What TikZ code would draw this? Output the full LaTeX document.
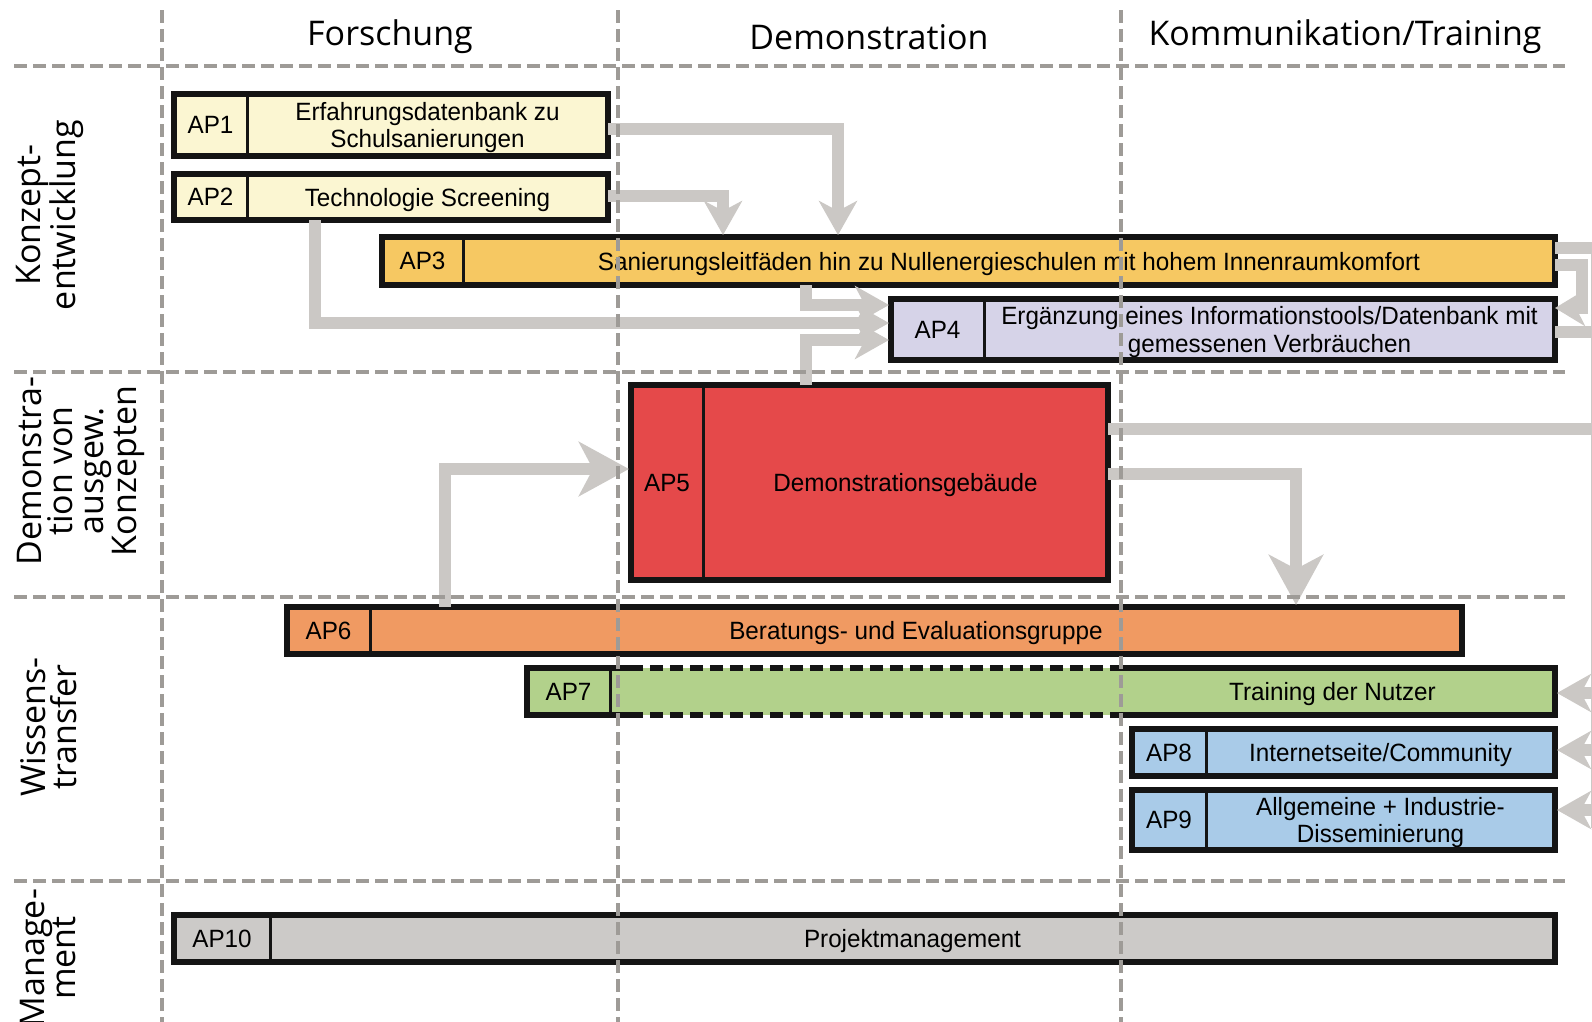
\documentclass[tikz,border=0pt]{standalone}
\usepackage{fontspec}
\setmainfont{Liberation Sans}
\newfontfamily\headfont{Open Sans}
\newfontfamily\boxfont[FakeStretch=0.97]{Liberation Sans}
\usetikzlibrary{arrows.meta, positioning}

\definecolor{apyellow}{HTML}{FBF6D2}
\definecolor{aporange}{HTML}{F6C862}
\definecolor{aplilac}{HTML}{D6D3E8}
\definecolor{apred}{HTML}{E5494A}
\definecolor{apsalmon}{HTML}{F09A62}
\definecolor{apgreen}{HTML}{B2D18B}
\definecolor{apblue}{HTML}{A9CBE8}
\definecolor{apgray}{HTML}{CCCAC8}
\definecolor{flowgray}{HTML}{CBC8C5}
\definecolor{gridgray}{HTML}{9E9B97}

\begin{document}
\begin{tikzpicture}[x=1pt, y=-1pt,
  wp/.style={inner sep=0pt, outer sep=0pt, align=center, anchor=north west, text depth=0pt, font=\boxfont\fontsize{25}{27.5}\selectfont},
  frame/.style={draw=black!92, line width=5.5pt},
  divider/.style={draw=black!92, line width=3pt},
  flow/.style={draw=flowgray, line width=12pt, -{Stealth[length=34pt, width=38pt, inset=10pt]}, shorten >=2pt},
  bigflow/.style={flow, -{Stealth[length=50pt, width=54pt, inset=14pt]}},
  grid/.style={draw=gridgray, line width=4.5pt, dash pattern=on 13pt off 6pt},
  head/.style={font=\headfont\fontsize{34}{36}\selectfont},
  lane/.style={rotate=90, align=center, font=\headfont\fontsize{34}{31}\selectfont}]

  \useasboundingbox (0,0) rectangle (1592,1021);
  \clip (0,0) rectangle (1592,1021);

  % Work packages
  \node[wp, fill=apyellow, minimum width=73pt, minimum height=62pt] (ap1) at (174,94) {AP1};
  \node[wp, fill=apyellow, minimum width=361pt, minimum height=62pt, right=0pt of ap1] (ap1d) {Erfahrungsdatenbank zu\\Schulsanierungen};
  \node[wp, fill=apyellow, minimum width=73pt, minimum height=46pt] (ap2) at (174,174) {AP2};
  \node[wp, fill=apyellow, minimum width=361pt, minimum height=46pt, right=0pt of ap2] (ap2d) {Technologie Screening};
  \node[wp, fill=aporange, minimum width=81pt, minimum height=48pt] (ap3) at (382,237) {AP3};
  \node[wp, fill=aporange, minimum width=1092pt, minimum height=48pt, right=0pt of ap3] (ap3d) {Sanierungsleitfäden hin zu Nullenergieschulen mit hohem Innenraumkomfort};
  \node[wp, fill=aplilac, minimum width=93pt, minimum height=61pt] (ap4) at (891,299) {AP4};
  \node[wp, fill=aplilac, minimum width=571pt, minimum height=61pt, right=0pt of ap4] (ap4d) {Ergänzung eines Informationstools/Datenbank mit\\gemessenen Verbräuchen};
  \node[wp, fill=apred, minimum width=72pt, minimum height=195pt] (ap5) at (631,385) {AP5};
  \node[wp, fill=apred, minimum width=405pt, minimum height=195pt, right=0pt of ap5] (ap5d) {Demonstrationsgebäude};
  \node[wp, fill=apsalmon, minimum width=83pt, minimum height=47pt] (ap6) at (287,607) {AP6};
  \node[wp, fill=apsalmon, minimum width=1092pt, minimum height=47pt, right=0pt of ap6] (ap6d) {Beratungs- und Evaluationsgruppe};
  \node[wp, fill=apgreen, minimum width=83pt, minimum height=47pt] (ap7) at (527,668) {AP7};
  \node[wp, fill=apgreen, minimum width=500pt, minimum height=47pt, right=0pt of ap7] (ap7m) {};
  \node[wp, fill=apgreen, minimum width=445pt, minimum height=47pt, right=0pt of ap7m] (ap7d) {Training der Nutzer};
  \node[wp, fill=apblue, minimum width=74pt, minimum height=47pt] (ap8) at (1132,729) {AP8};
  \node[wp, fill=apblue, minimum width=349pt, minimum height=47pt, right=0pt of ap8] (ap8d) {Internetseite/Community};
  \node[wp, fill=apblue, minimum width=74pt, minimum height=60pt] (ap9) at (1132,790) {AP9};
  \node[wp, fill=apblue, minimum width=349pt, minimum height=60pt, right=0pt of ap9] (ap9d) {Allgemeine + Industrie-\\Disseminierung};
  \node[wp, fill=apgray, minimum width=96pt, minimum height=47pt] (ap10) at (174,915) {AP10};
  \node[wp, fill=apgray, minimum width=1285pt, minimum height=47pt, right=0pt of ap10] (ap10d) {Projektmanagement};

  % Frames
  \foreach \ap in {ap1,ap2,ap3,ap4,ap5,ap6,ap8,ap9,ap10} {
    \draw[frame] (\ap.north west) rectangle (\ap d.south east);
    \draw[divider] (\ap.north east) -- (\ap.south east);
  }
  \draw[frame] ([xshift=20pt]ap7m.north west) -- (ap7.north west) -- (ap7.south west) -- ([xshift=20pt]ap7m.south west);
  \draw[frame] (ap7d.north west) -- (ap7d.north east) -- (ap7d.south east) -- (ap7d.south west);
  \draw[frame, dash pattern=on 13pt off 7pt] ([xshift=20pt]ap7m.north west) -- (ap7m.north east) ([xshift=20pt]ap7m.south west) -- (ap7m.south east);
  \draw[divider] (ap7.north east) -- (ap7.south east);

  % Arrows
  \draw[flow] (ap1d.east |- 0,129) -- (838,129) -- (ap3d.north -| 838,0);
  \draw[flow] (ap2d.east |- 0,196) -- (723,196) -- (ap3d.north -| 723,0);
  \draw[flow] (ap2d.south -| 315,0) -- (315,323) -- (ap4.west |- 0,323);
  \draw[flow] (ap3d.south -| 806,0) -- (806,305) -- (ap4.west |- 0,305);
  \draw[flow] (ap5d.north -| 806,0) -- (806,340) -- (ap4.west |- 0,340);
  \draw[bigflow] (ap6d.north -| 445,0) -- (445,469) -- (ap5.west |- 0,469);
  \draw[bigflow] (ap5d.east |- 0,474) -- (1296,474) -- (ap6d.north -| 1296,0);
  \draw[flow, -] (ap5d.east |- 0,429) -- (1640,429);
  \draw[flow, shorten >=0pt, -{Stealth[length=30pt, width=36pt, inset=9pt]}] (ap3d.east |- 0,265) -- (1582,265) -- (1582,308) -- (ap4d.east |- 0,308);
  \draw[flow, -] (ap3d.east |- 0,248) -- (1640,248);
  \draw[flow, -] (ap4d.east |- 0,332) -- (1640,332);
  \draw[flow, -] (1597,248) -- (1597,830);
  \draw[flow] (1640,693) -- (ap7d.east |- 0,693);
  \draw[flow] (1640,750) -- (ap8d.east |- 0,750);
  \draw[flow] (1640,810) -- (ap9d.east |- 0,810);

  % Grid
  \foreach \x in {162,618,1121}
    \draw[grid] (\x,10) -- (\x,1030);
  \foreach \y in {66,372,597,881}
    \draw[grid, line width=4pt] (14,\y) -- (1565,\y);

  % Headings
  \node[head] (forschung) at (390,37) {Forschung};
  \node[head] (demo) at (869,37) {Demonstration};
  \node[head] (komm) at (1345,37) {Kommunikation/Training};
  \node[lane] (konzept) at (50,215) {Konzept-\\entwicklung};
  \node[lane] (demolane) at (81,471) {Demonstra-\\tion von\\ausgew.\\Konzepten};
  \node[lane] (wissen) at (49,727) {Wissens-\\transfer};
  \node[lane] (manage) at (48,958) {Manage-\\ment};

\end{tikzpicture}
\end{document}
